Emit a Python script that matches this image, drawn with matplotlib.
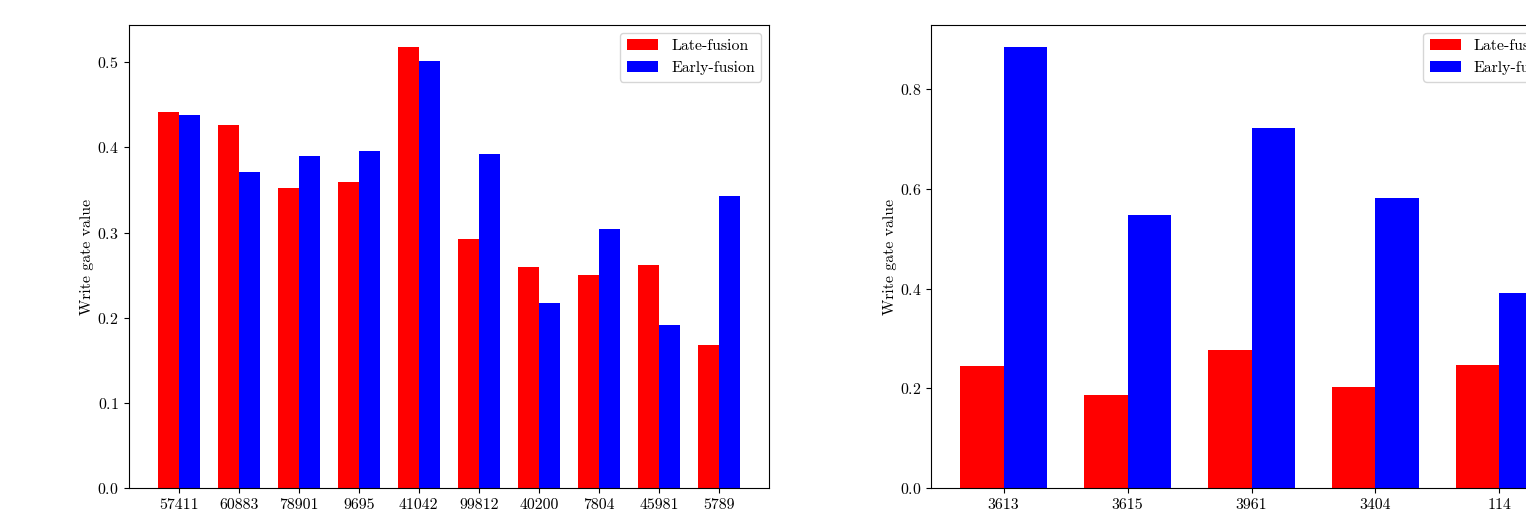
import matplotlib
matplotlib.use("Agg")
import matplotlib.pyplot as plt
import numpy as np

plt.rcParams['font.family'] = ['cmr10', 'DejaVu Serif']
plt.rcParams['axes.formatter.use_mathtext'] = True
plt.rcParams['mathtext.fontset'] = 'cm'

left_labels = ["57411", "60883", "78901", "9695", "41042", "99812", "40200", "7804", "45981", "5789"]
left_late = [0.442, 0.426, 0.353, 0.359, 0.518, 0.293, 0.260, 0.250, 0.262, 0.168]
left_early = [0.438, 0.371, 0.390, 0.396, 0.502, 0.392, 0.217, 0.304, 0.191, 0.343]

right_labels = ["3613", "3615", "3961", "3404", "114"]
right_late = [0.244, 0.187, 0.276, 0.202, 0.246]
right_early = [0.885, 0.547, 0.723, 0.582, 0.391]

W, H = 1526, 511
fig = plt.figure(figsize=(W / 100, H / 100), dpi=100)

def px_axes(x0, x1, y0, y1):
    return fig.add_axes([x0 / W, 1 - y1 / H, (x1 - x0) / W, (y1 - y0) / H])

ax1 = px_axes(128.5, 769, 25, 488)
ax2 = px_axes(931, 1572, 25, 488)

FS = 11.4
width = 0.35
for ax, labels, late, early in [(ax1, left_labels, left_late, left_early),
                                (ax2, right_labels, right_late, right_early)]:
    x = np.arange(len(labels))
    ax.bar(x - width / 2, late, width, color='red', label='Late-fusion')
    ax.bar(x + width / 2, early, width, color='blue', label='Early-fusion')
    ax.set_xticks(x)
    ax.set_xticklabels(labels)
    ax.set_ylabel('Write gate value', fontsize=FS, labelpad=2)
    ax.tick_params(labelsize=FS)
    ax.tick_params(axis='x', pad=4)
    ax.legend(loc='upper right', fontsize=FS)

ax1.set_yticks([0.0, 0.1, 0.2, 0.3, 0.4, 0.5])
ax2.set_yticks([0.0, 0.2, 0.4, 0.6, 0.8])

fig.savefig('out.png', dpi=100)
